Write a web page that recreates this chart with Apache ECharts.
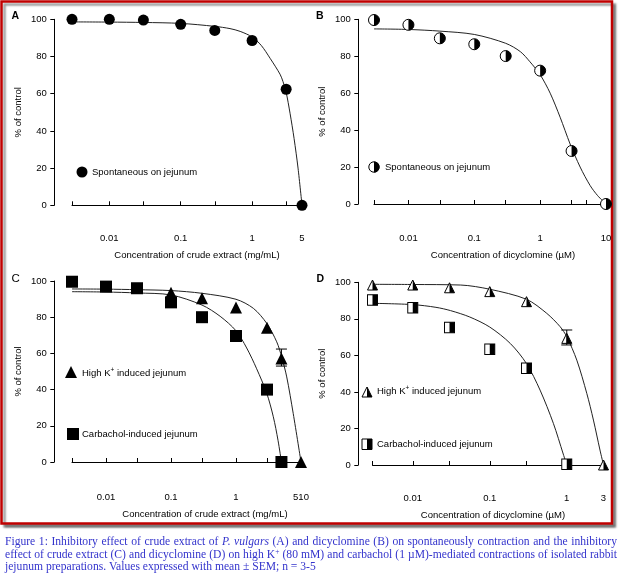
<!DOCTYPE html>
<html><head><meta charset="utf-8">
<script src="https://cdn.jsdelivr.net/npm/echarts@6/dist/echarts.min.js"></script>
<style>html,body{margin:0;padding:0;background:#fff}#c{width:620px;height:579px}</style>
</head><body><div id="c"></div>
<script>
// ---------- DATA ----------
// Panel A: crude extract, spontaneous
const aTicks = [0.003, 0.01, 0.03, 0.1, 0.3, 1, 3, 5];
const aLabelVals = [0.01, 0.1, 1, 5];
const aLabelTexts = ['0.01', '0.1', '1', '5'];
const aX = [0.003, 0.01, 0.03, 0.1, 0.3, 1, 3, 5];
const aY = [100, 100, 99.6, 97.3, 94, 88.6, 62.4, 0];
const aCurveX = [0.003, 0.01, 0.03, 0.1, 0.3, 0.49, 0.68, 1, 1.34, 1.79, 2.46, 2.71, 2.99, 3.4, 3.87, 4.4, 5];
const aCurveY = [98.6, 98.5, 98.3, 97.8, 96.2, 95, 93.5, 90.5, 86, 79, 70.5, 66.5, 61, 49.5, 36, 20, 0];

// Panel B: dicyclomine, spontaneous
const bTicks = [0.003, 0.01, 0.03, 0.1, 0.3, 1, 3, 5, 10];
const bLabelVals = [0.01, 0.1, 1, 10];
const bLabelTexts = ['0.01', '0.1', '1', '10'];
const bX = [0.003, 0.01, 0.03, 0.1, 0.3, 1, 3, 10];
const bY = [99.6, 97, 89.7, 86.5, 80.1, 72.2, 28.7, 0];
const bCurveX = [0.003, 0.01, 0.03, 0.1, 0.3, 0.5, 0.7, 1, 1.42, 2.01, 2.85, 4.05, 5.74, 7.48, 10];
const bCurveY = [94.8, 94.5, 93.6, 91.8, 87, 82.5, 77, 70, 60, 47, 32.5, 20, 10, 4.5, 0];

// Panel C: crude extract, high K+ and carbachol
const cTicks = [0.003, 0.01, 0.03, 0.1, 0.3, 1, 3, 5, 10];
const cLabelVals = [0.01, 0.1, 1, 10];
const cLabelTexts = ['0.01', '0.1', '1', '510'];
const cKX = [0.1, 0.3, 1, 3, 5, 10];
const cKY = [93.5, 90.5, 85.4, 74.2, 57.2, 0];
const cKErr = [[5, 53, 62.4]];
const cCchX = [0.003, 0.01, 0.03, 0.1, 0.3, 1, 3, 5];
const cCchY = [99.6, 96.9, 96, 88.2, 80, 69.6, 40, 0];
const cKCurveX = [0.003, 0.01, 0.03, 0.1, 0.3, 1, 1.85, 2.97, 4.23, 5.05, 6.03, 7.6, 10];
const cKCurveY = [95.6, 95.5, 95.2, 94.7, 93.2, 89.9, 84.9, 76.6, 66.4, 58, 47, 26.7, 0];
const cCchCurveX = [0.003, 0.01, 0.03, 0.1, 0.3, 0.57, 1, 1.46, 2.08, 2.97, 3.75, 4.43, 5];
const cCchCurveY = [94.1, 93.9, 93.4, 92.3, 86.7, 80.5, 72.5, 63, 51.5, 38, 25, 12, 0];

// Panel D: dicyclomine, high K+ and carbachol
const dTicks = [0.003, 0.01, 0.03, 0.1, 0.3, 1, 3];
const dLabelVals = [0.01, 0.1, 1, 3];
const dLabelTexts = ['0.01', '0.1', '1', '3'];
const dKX = [0.003, 0.01, 0.03, 0.1, 0.3, 1, 3];
const dKY = [98.5, 98.5, 97, 94.9, 89.4, 69.3, 0];
const dKErr = [[1, 65.7, 73.9]];
const dCchX = [0.003, 0.01, 0.03, 0.1, 0.3, 1];
const dCchY = [90.3, 86.1, 75.2, 63.4, 52.9, 0.4];
const dKCurveX = [0.003, 0.01, 0.042, 0.1, 0.3, 0.55, 0.82, 1, 1.35, 1.82, 2.22, 2.7, 3];
const dKCurveY = [98.9, 98.8, 98.5, 96.2, 90.7, 83, 75.7, 70.2, 57.4, 39.2, 24.6, 8.2, 0];
const dCchCurveX = [0.003, 0.01, 0.02, 0.031, 0.055, 0.1, 0.185, 0.3, 0.45, 0.67, 0.9, 1];
const dCchCurveY = [88.5, 87.8, 86.3, 84.5, 81, 75.5, 66.5, 55.5, 41, 22.8, 6, 0];

const yTickStep = 20;
const panelLetters = ['A', 'B', 'C', 'D'];
const xNames = ['Concentration of crude extract (mg/mL)', 'Concentration of dicyclomine (\u00b5M)',
                'Concentration of crude extract (mg/mL)', 'Concentration of dicyclomine (\u00b5M)'];
const yName = '% of control';
const legendA = 'Spontaneous on jejunum';
const legendK = 'High K{sup|+} induced jejunum';
const legendCch = 'Carbachol-induced jejunum';
const captionLines = [
  'Figure 1: Inhibitory effect of crude extract of {i|P.} {i|vulgars} (A) and dicyclomine (B) on spontaneously contraction and the inhibitory',
  'effect of crude extract (C) and dicyclomine (D) on high K{sup|+} (80 mM) and carbachol (1 \u00b5M)-mediated contractions of isolated rabbit',
  'jejunum preparations. Values expressed with mean \u00b1 SEM; n = 3-5'
];

// ---------- HELPERS ----------
const zip = (xs, ys) => xs.map((x, i) => [x, ys[i]]);
const FONT = 'Liberation Sans, Arial, sans-serif';
const HALF_CIRCLE = 'path://M0,10L0,10.001Z M10,0A10,10,0,0,1,10,20Z';
const HALF_TRI = 'path://M0,20L0,19.999Z M10,0L20,20L10,20Z';
const HALF_RECT = 'path://M0,0L0,0.001Z M10,0L20,0L20,20L10,20Z';

const grids = [
  {left: 72, top: 19.3, width: 230, height: 186},
  {left: 374, top: 19.3, width: 232, height: 184.7},
  {left: 72, top: 281, width: 229, height: 181},
  {left: 372.5, top: 282.3, width: 231, height: 182.7}
];
const yOffsets = [17.7, 15.7, 17.7, 14.2];
const xOffsets = [16.7, 18, 19, 17];
const xMax = [5, 10, 10, 3];
const tickSets = [aTicks, bTicks, cTicks, dTicks];
const labelVals = [aLabelVals, bLabelVals, cLabelVals, dLabelVals];
const labelTexts = [aLabelTexts, bLabelTexts, cLabelTexts, dLabelTexts];
const namePad = [20, 26, 37, 10];

const xAxis = grids.map((g, i) => ({
  type: 'log', logBase: 10, gridIndex: i, min: 0.003, max: xMax[i], offset: xOffsets[i],
  axisLine: {show: true, lineStyle: {color: '#000', width: 1}},
  axisTick: {show: true, inside: true, length: 4, customValues: tickSets[i], lineStyle: {color: '#000', width: 1}},
  minorTick: {show: false}, splitLine: {show: false},
  axisLabel: {
    customValues: labelVals[i], margin: 11, color: '#000', fontSize: 9.5, fontFamily: FONT,
    formatter: (v) => {
      const k = labelVals[i].findIndex(u => Math.abs(Math.log10(u) - Math.log10(v)) < 1e-6);
      return k >= 0 ? labelTexts[i][k] : '';
    }
  },
  name: xNames[i], nameLocation: 'middle', nameGap: 28.5,
  nameTextStyle: {color: '#000', fontSize: 9.5, fontFamily: FONT, padding: [0, 0, 0, namePad[i]]}
}));

const yAxis = grids.map((g, i) => ({
  type: 'value', gridIndex: i, min: 0, max: 100, interval: yTickStep, offset: yOffsets[i],
  axisLine: {show: true, lineStyle: {color: '#000', width: 1}},
  axisTick: {show: true, inside: false, length: 4, lineStyle: {color: '#000', width: 1}},
  splitLine: {show: false},
  axisLabel: {margin: 7.5, color: '#000', fontSize: 9.5, fontFamily: FONT},
  name: yName, nameLocation: 'middle', nameGap: 31, nameRotate: 90,
  nameTextStyle: {color: '#000', fontSize: 9.5, fontFamily: FONT}
}));

function curve(i, xs, ys) {
  return {type: 'line', xAxisIndex: i, yAxisIndex: i, data: zip(xs, ys), smooth: 0.3,
    showSymbol: false, symbol: 'none', lineStyle: {color: '#222', width: 1}, z: 2, silent: true};
}
function dots(i, xs, ys, symbol, size, fill, border, z) {
  return {type: 'scatter', xAxisIndex: i, yAxisIndex: i, data: zip(xs, ys), symbol: symbol, symbolSize: size,
    itemStyle: {color: fill, borderColor: border || fill, borderWidth: border ? 1 : 0, opacity: 1}, z: z || 3, silent: true};
}
function errBars(i, data) {
  return {type: 'custom', xAxisIndex: i, yAxisIndex: i, data: data, z: 4, silent: true,
    encode: {x: 0, y: [1, 2]},
    renderItem: (params, api) => {
      const x = api.value(0), lo = api.value(1), hi = api.value(2);
      const p1 = api.coord([x, hi]), p2 = api.coord([x, lo]);
      const w = 5.5, st = {stroke: '#000', lineWidth: 1};
      return {type: 'group', children: [
        {type: 'line', shape: {x1: p1[0], y1: p1[1], x2: p2[0], y2: p2[1]}, style: st},
        {type: 'line', shape: {x1: p1[0] - w, y1: p1[1], x2: p1[0] + w, y2: p1[1]}, style: st},
        {type: 'line', shape: {x1: p2[0] - w, y1: p2[1], x2: p2[0] + w, y2: p2[1]}, style: st}
      ]};
    }};
}

const series = [
  curve(0, aCurveX, aCurveY),
  dots(0, aX, aY, 'circle', 11, '#000'),
  curve(1, bCurveX, bCurveY),
  dots(1, bX, bY, 'circle', 11, '#fff', '#000', 3),
  dots(1, bX, bY, HALF_CIRCLE, 11, '#000', null, 4),
  curve(2, cKCurveX, cKCurveY),
  curve(2, cCchCurveX, cCchCurveY),
  errBars(2, cKErr),
  dots(2, cKX, cKY, 'triangle', [12, 12], '#000'),
  dots(2, cCchX, cCchY, 'rect', 12, '#000'),
  curve(3, dKCurveX, dKCurveY),
  curve(3, dCchCurveX, dCchCurveY),
  errBars(3, dKErr),
  dots(3, dKX, dKY, 'triangle', [10, 10], '#fff', '#000', 3),
  dots(3, dKX, dKY, HALF_TRI, [10, 10], '#000', null, 4),
  dots(3, dCchX, dCchY, 'rect', [10, 10.5], '#fff', '#000', 3),
  dots(3, dCchX, dCchY, HALF_RECT, [10, 10.5], '#000', null, 4)
];

// ---------- GRAPHIC (frame, panel letters, legends, caption) ----------
const txt = (x, y, text, extra) => Object.assign({type: 'text', x: x, y: y, z: 10, silent: true,
  style: Object.assign({text: text, fill: '#000', font: '9.5px ' + FONT, textVerticalAlign: 'middle',
    rich: {sup: {fontSize: 6.5, fontFamily: FONT, padding: [0, 0, 5, 0]}}}, extra || {})});

const graphic = [
  {type: 'rect', z: 0, silent: true, shape: {x: 1.5, y: 1.5, width: 610.5, height: 522},
    style: {fill: '#fff', stroke: '#c00000', lineWidth: 2.5, shadowColor: 'rgba(0,0,0,0.4)', shadowOffsetX: 3, shadowOffsetY: 3, shadowBlur: 2}},
  txt(11.5, 16, panelLetters[0], {font: 'bold 10.5px ' + FONT}),
  txt(316, 16, panelLetters[1], {font: 'bold 10.5px ' + FONT}),
  txt(11.5, 278.5, panelLetters[2], {font: '11.5px ' + FONT}),
  txt(316.5, 279, panelLetters[3], {font: 'bold 10.5px ' + FONT}),
  {type: 'circle', z: 10, silent: true, shape: {cx: 82, cy: 172, r: 5.5}, style: {fill: '#000'}},
  txt(92, 172, legendA),
  {type: 'circle', z: 10, silent: true, shape: {cx: 374, cy: 167, r: 5.2}, style: {fill: '#fff', stroke: '#000', lineWidth: 1}},
  {type: 'sector', z: 11, silent: true, shape: {cx: 374, cy: 167, r: 5.5, r0: 0, startAngle: -Math.PI / 2, endAngle: Math.PI / 2}, style: {fill: '#000'}},
  txt(385, 167, legendA),
  {type: 'polygon', z: 10, silent: true, shape: {points: [[71, 366], [77, 378], [65, 378]]}, style: {fill: '#000'}},
  txt(82, 373, legendK),
  {type: 'rect', z: 10, silent: true, shape: {x: 67, y: 428, width: 12, height: 12}, style: {fill: '#000'}},
  txt(82, 434, legendCch),
  {type: 'polygon', z: 10, silent: true, shape: {points: [[367, 387], [372, 397], [362, 397]]}, style: {fill: '#fff', stroke: '#000', lineWidth: 1}},
  {type: 'polygon', z: 11, silent: true, shape: {points: [[367, 387], [372, 397], [367, 397]]}, style: {fill: '#000'}},
  txt(377, 391, legendK),
  {type: 'rect', z: 10, silent: true, shape: {x: 362, y: 439, width: 10, height: 10.5}, style: {fill: '#fff', stroke: '#000', lineWidth: 1}},
  {type: 'rect', z: 11, silent: true, shape: {x: 367, y: 439, width: 5, height: 10.5}, style: {fill: '#000'}},
  txt(377, 444, legendCch)
];

// caption: justified lines (words measured with canvas)
const capFam = 'Liberation Serif, Times New Roman, serif';
const capSize = 11.6, supSize = 7.5;
const capY = [542, 554.5, 567];
const capLeft = 5, capRight = 617;
const mctx = document.createElement('canvas').getContext('2d');
function wordWidth(w) {
  let total = 0;
  const re = /\{(i|sup)\|([^}]*)\}|([^{]+)/g; let m;
  while ((m = re.exec(w))) {
    if (m[1] === 'i') { mctx.font = 'italic ' + capSize + 'px ' + capFam; total += mctx.measureText(m[2]).width; }
    else if (m[1] === 'sup') { mctx.font = supSize + 'px ' + capFam; total += mctx.measureText(m[2]).width; }
    else { mctx.font = capSize + 'px ' + capFam; total += mctx.measureText(m[3]).width; }
  }
  return total;
}
mctx.font = capSize + 'px ' + capFam;
const spaceW = mctx.measureText(' ').width;
captionLines.forEach((line, k) => {
  const words = line.split(' ');
  const widths = words.map(wordWidth);
  const sum = widths.reduce((a, b) => a + b, 0);
  const justify = k < captionLines.length - 1;
  const gap = justify ? Math.max(spaceW * 0.6, (capRight - capLeft - sum) / (words.length - 1)) : spaceW;
  let x = capLeft;
  words.forEach((w, j) => {
    graphic.push({type: 'text', x: x, y: capY[k], z: 10, silent: true,
      style: {text: w, fill: '#3333cc', font: capSize + 'px ' + capFam, textVerticalAlign: 'middle',
        rich: {i: {fontStyle: 'italic', fontSize: capSize, fontFamily: capFam, fill: '#3333cc'},
               sup: {fontSize: supSize, fontFamily: capFam, fill: '#3333cc', padding: [0, 0, 5, 0]}}}});
    x += widths[j] + gap;
  });
});

const chart = echarts.init(document.getElementById('c'), null, {renderer: 'canvas'});
chart.setOption({
  animation: false,
  backgroundColor: '#fff',
  grid: grids.map(g => Object.assign({containLabel: false}, g)),
  xAxis: xAxis,
  yAxis: yAxis,
  series: series,
  graphic: {elements: graphic}
});
</script></body></html>
